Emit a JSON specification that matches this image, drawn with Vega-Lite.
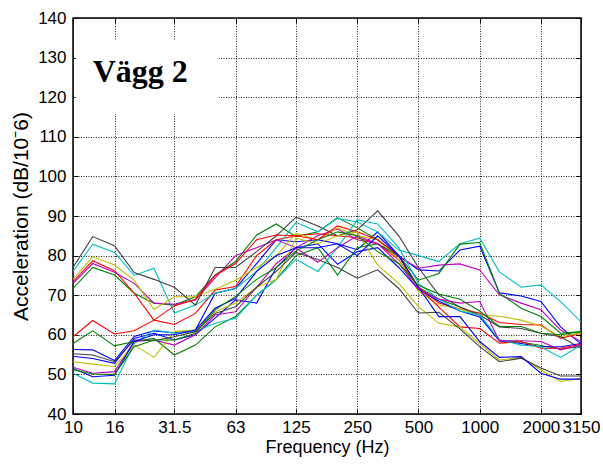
{
  "$schema": "https://vega.github.io/schema/vega-lite/v6.json",
  "width": 508,
  "height": 396,
  "autosize": {"type": "none"},
  "padding": {"left": 73, "top": 18, "right": 22, "bottom": 55},
  "background": "white",
  "config": {
    "view": {"stroke": "#000000", "strokeWidth": 1.5},
    "font": "Liberation Sans",
    "axis": {
      "labelFont": "Liberation Sans",
      "titleFont": "Liberation Sans",
      "labelColor": "#000000",
      "titleColor": "#000000",
      "tickColor": "#000000",
      "domain": false,
      "titleFontWeight": "normal"
    }
  },
  "resolve": {"axis": {"x": "independent", "y": "independent"}},
  "layer": [
    {
      "data": {
        "values": [
          {"freq": 10, "b1": 56.3, "g1": 71.7, "r1": 73.4, "c1": 76, "m1": 73, "y1": 74, "k1": 77, "b2": 54.6, "g2": 57.8, "r2": 59.5, "c2": 50.3, "m2": 51.8, "y2": 53.2, "k2": 55.2, "b3": 51.5, "g3": 51.2},
          {"freq": 12.5, "b1": 56.2, "g1": 77, "r1": 78.7, "c1": 82.9, "m1": 78, "y1": 79.7, "k1": 84.8, "b2": 54, "g2": 61, "r2": 63.6, "c2": 47.8, "m2": 50.3, "y2": 52.6, "k2": 54.9, "b3": 49.4, "g3": 50.1},
          {"freq": 16, "b1": 53.5, "g1": 75.1, "r1": 76.2, "c1": 80.8, "m1": 75.8, "y1": 77.6, "k1": 82.5, "b2": 52.8, "g2": 57.2, "r2": 60.2, "c2": 47.6, "m2": 50.7, "y2": 52, "k2": 53.2, "b3": 49.8, "g3": 50},
          {"freq": 20, "b1": 59.6, "g1": 70.5, "r1": 70.5, "c1": 75, "m1": 73, "y1": 73.8, "k1": 75.7, "b2": 59.1, "g2": 58.3, "r2": 61, "c2": 57.8, "m2": 58.3, "y2": 57.4, "k2": 58.7, "b3": 58.3, "g3": 57},
          {"freq": 25, "b1": 61, "g1": 68, "r1": 63.7, "c1": 76.8, "m1": 68, "y1": 66.4, "k1": 74, "b2": 60.4, "g2": 59.1, "r2": 63.7, "c2": 61.2, "m2": 58.7, "y2": 54.3, "k2": 58.5, "b3": 60, "g3": 58.7},
          {"freq": 31.5, "b1": 60.5, "g1": 67.5, "r1": 62.6, "c1": 65.5, "m1": 67.7, "y1": 69.6, "k1": 72, "b2": 58.7, "g2": 54.9, "r2": 67.3, "c2": 60.4, "m2": 57.4, "y2": 60.8, "k2": 59.5, "b3": 60, "g3": 58.7},
          {"freq": 40, "b1": 61.2, "g1": 69.6, "r1": 65.4, "c1": 67.5, "m1": 68.8, "y1": 69.6, "k1": 67.5, "b2": 60, "g2": 57.4, "r2": 69, "c2": 60.8, "m2": 60, "y2": 61.2, "k2": 60.8, "b3": 61.2, "g3": 60.4},
          {"freq": 50, "b1": 70.5, "g1": 75.1, "r1": 71.3, "c1": 70.5, "m1": 74.4, "y1": 71.5, "k1": 77, "b2": 64.2, "g2": 62, "r2": 75, "c2": 62.9, "m2": 65, "y2": 65.8, "k2": 65.4, "b3": 66.7, "g3": 66.3},
          {"freq": 63, "b1": 71.7, "g1": 78.5, "r1": 72.2, "c1": 71.7, "m1": 80, "y1": 73.8, "k1": 77, "b2": 68.8, "g2": 64.6, "r2": 78, "c2": 64.2, "m2": 65.8, "y2": 68, "k2": 67.1, "b3": 69.2, "g3": 69.7},
          {"freq": 80, "b1": 78, "g1": 85.2, "r1": 80, "c1": 76, "m1": 82, "y1": 77, "k1": 81, "b2": 68, "g2": 70, "r2": 84, "c2": 70, "m2": 72, "y2": 72, "k2": 72, "b3": 76, "g3": 74},
          {"freq": 100, "b1": 84, "g1": 88, "r1": 84, "c1": 82, "m1": 84, "y1": 80, "k1": 85, "b2": 77, "g2": 74, "r2": 85.2, "c2": 74, "m2": 78, "y2": 74, "k2": 76, "b3": 80, "g3": 77},
          {"freq": 125, "b1": 83.5, "g1": 84.8, "r1": 85, "c1": 88.4, "m1": 82, "y1": 85.6, "k1": 89.7, "b2": 82, "g2": 80, "r2": 85, "c2": 79.1, "m2": 81.9, "y2": 84.4, "k2": 80.8, "b3": 82, "g3": 81.2},
          {"freq": 160, "b1": 84, "g1": 86, "r1": 85.5, "c1": 86, "m1": 85, "y1": 84, "k1": 87.5, "b2": 83, "g2": 82, "r2": 84, "c2": 76, "m2": 78.3, "y2": 83, "k2": 79, "b3": 82, "g3": 84},
          {"freq": 200, "b1": 83, "g1": 89.6, "r1": 85, "c1": 89.4, "m1": 86.7, "y1": 87, "k1": 85, "b2": 77.8, "g2": 75.1, "r2": 87.5, "c2": 82, "m2": 82, "y2": 85, "k2": 77, "b3": 83, "g3": 86},
          {"freq": 250, "b1": 81.5, "g1": 87, "r1": 84.5, "c1": 88.5, "m1": 84, "y1": 85, "k1": 86.5, "b2": 81, "g2": 82, "r2": 86, "c2": 89, "m2": 85, "y2": 86, "k2": 74.3, "b3": 80, "g3": 85},
          {"freq": 315, "b1": 86, "g1": 84, "r1": 83, "c1": 86, "m1": 83, "y1": 84, "k1": 91.3, "b2": 82, "g2": 83, "r2": 84, "c2": 88, "m2": 83, "y2": 77.6, "k2": 76.4, "b3": 85, "g3": 81},
          {"freq": 400, "b1": 80, "g1": 80, "r1": 79, "c1": 81.4, "m1": 79.7, "y1": 79, "k1": 85, "b2": 77, "g2": 80, "r2": 80, "c2": 82, "m2": 78, "y2": 73, "k2": 71.7, "b3": 80, "g3": 78},
          {"freq": 500, "b1": 76.4, "g1": 72, "r1": 72, "c1": 80, "m1": 76.8, "y1": 71, "k1": 77, "b2": 71.5, "g2": 73.8, "r2": 72, "c2": 73, "m2": 71.5, "y2": 67.1, "k2": 65.5, "b3": 72, "g3": 72.5},
          {"freq": 630, "b1": 76.1, "g1": 69, "r1": 68, "c1": 78.5, "m1": 77.6, "y1": 67.5, "k1": 70, "b2": 68.5, "g2": 75.5, "r2": 67, "c2": 69, "m2": 69, "y2": 62.9, "k2": 65.7, "b3": 64.6, "g3": 70.3},
          {"freq": 800, "b1": 81.4, "g1": 67, "r1": 66.5, "c1": 83, "m1": 77.9, "y1": 66.5, "k1": 67, "b2": 66, "g2": 82.9, "r2": 62, "c2": 66, "m2": 68, "y2": 62, "k2": 61.5, "b3": 64.6, "g3": 69},
          {"freq": 1000, "b1": 82.4, "g1": 65, "r1": 65.5, "c1": 84.4, "m1": 76.4, "y1": 65, "k1": 65, "b2": 64.5, "g2": 83.3, "r2": 61.6, "c2": 65, "m2": 68.4, "y2": 57.8, "k2": 57, "b3": 58.3, "g3": 66},
          {"freq": 1250, "b1": 70.6, "g1": 58.5, "r1": 63.1, "c1": 75.9, "m1": 70.1, "y1": 64.7, "k1": 62, "b2": 58.5, "g2": 70.5, "r2": 57.9, "c2": 58.8, "m2": 58.5, "y2": 53.6, "k2": 53.2, "b3": 54.3, "g3": 62.1},
          {"freq": 1600, "b1": 69.8, "g1": 58.2, "r1": 62.6, "c1": 72, "m1": 68, "y1": 63.7, "k1": 61.6, "b2": 57.8, "g2": 66.7, "r2": 58.3, "c2": 57.4, "m2": 58.5, "y2": 54.3, "k2": 54.1, "b3": 54.5, "g3": 62.1},
          {"freq": 2000, "b1": 68.4, "g1": 57.3, "r1": 62.5, "c1": 72.6, "m1": 66.3, "y1": 62.2, "k1": 60.4, "b2": 57, "g2": 64.6, "r2": 56.6, "c2": 57, "m2": 58.3, "y2": 51.1, "k2": 51.6, "b3": 50.3, "g3": 60.4},
          {"freq": 2500, "b1": 62, "g1": 56.4, "r1": 59.1, "c1": 68.4, "m1": 61.2, "y1": 59.5, "k1": 59.5, "b2": 57, "g2": 60.4, "r2": 56.6, "c2": 54.3, "m2": 56.2, "y2": 48.2, "k2": 49.6, "b3": 48.8, "g3": 60},
          {"freq": 3150, "b1": 57.7, "g1": 57, "r1": 60.4, "c1": 63.3, "m1": 58.3, "y1": 60.5, "k1": 56.6, "b2": 57.8, "g2": 60.8, "r2": 57.6, "c2": 57.4, "m2": 57.4, "y2": 49, "k2": 49.6, "b3": 48.8, "g3": 60.8}
        ]
      },
      "transform": [
        {"fold": ["b1", "g1", "r1", "c1", "m1", "y1", "k1", "b2", "g2", "r2", "c2", "m2", "y2", "k2", "b3", "g3"], "as": ["series", "level"]}
      ],
      "mark": {"type": "line", "strokeWidth": 1.1, "clip": true},
      "encoding": {
        "x": {
          "field": "freq", "type": "quantitative",
          "scale": {"type": "log", "domain": [10, 3150], "nice": false},
          "axis": {
            "orient": "bottom",
            "values": [10, 16, 31.5, 63, 125, 250, 500, 1000, 2000, 3150],
            "labelExpr": "toString(datum.value)",
            "labelFontSize": 17,
            "labelOverlap": false,
            "labelFlush": false,
            "labelPadding": 10,
            "tickSize": -5,
            "grid": true,
            "gridColor": "#000000",
            "gridDash": [1, 1.5],
            "gridOpacity": 0.85,
            "title": "Frequency (Hz)",
            "titleFontSize": 18,
            "titlePadding": 3
          }
        },
        "y": {
          "field": "level", "type": "quantitative",
          "scale": {"domain": [40, 140], "nice": false, "zero": false},
          "axis": {
            "orient": "left",
            "values": [40, 50, 60, 70, 80, 90, 100, 110, 120, 130, 140],
            "labelFontSize": 17,
            "labelPadding": 12,
            "tickSize": -5,
            "grid": true,
            "gridColor": "#000000",
            "gridDash": [1, 1.5],
            "gridOpacity": 0.85,
            "title": "Acceleration (dB/10⁻6)",
            "titleFontSize": 21,
            "titlePadding": 6
          }
        },
        "color": {
          "field": "series", "type": "nominal", "legend": null,
          "scale": {
            "domain": ["b1", "g1", "r1", "c1", "m1", "y1", "k1", "b2", "g2", "r2", "c2", "m2", "y2", "k2", "b3", "g3"],
            "range": ["#0000FF", "#008000", "#FF0000", "#00BFBF", "#BF00BF", "#BFBF00", "#404040", "#0000FF", "#008000", "#FF0000", "#00BFBF", "#BF00BF", "#BFBF00", "#404040", "#0000FF", "#008000"]
          }
        }
      }
    },
    {
      "data": {"values": [{"label": "Vägg 2"}]},
      "mark": {"type": "rect", "fill": "#FFFFFF", "stroke": null},
      "encoding": {
        "x": {
          "datum": 10.3, "type": "quantitative",
          "scale": {"type": "log", "domain": [10, 3150], "nice": false},
          "axis": {"orient": "top", "labels": false, "grid": false, "title": null, "tickSize": -5, "values": [10, 16, 31.5, 63, 125, 250, 500, 1000, 2000, 3150]}
        },
        "x2": {"datum": 52},
        "y": {
          "datum": 115.8, "type": "quantitative",
          "scale": {"domain": [40, 140], "nice": false, "zero": false},
          "axis": {"orient": "right", "labels": false, "grid": false, "title": null, "tickSize": -5, "values": [40, 50, 60, 70, 80, 90, 100, 110, 120, 130, 140]}
        },
        "y2": {"datum": 134.4}
      }
    },
    {
      "data": {"values": [{"label": "Vägg 2"}]},
      "mark": {"type": "text", "font": "Liberation Serif", "fontWeight": "bold", "fontSize": 32, "align": "left", "baseline": "alphabetic", "color": "#000000"},
      "encoding": {
        "x": {"datum": 12.5, "type": "quantitative", "scale": {"type": "log", "domain": [10, 3150], "nice": false}, "axis": null},
        "y": {"datum": 123.8, "type": "quantitative", "scale": {"domain": [40, 140], "nice": false, "zero": false}, "axis": null},
        "text": {"field": "label"}
      }
    }
  ]
}
